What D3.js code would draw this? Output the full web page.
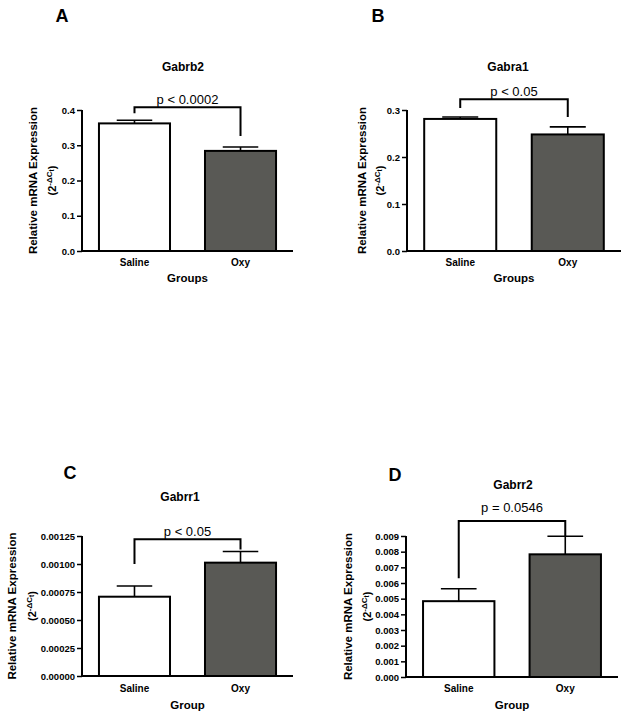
<!DOCTYPE html>
<html><head><meta charset="utf-8">
<script src="https://cdn.jsdelivr.net/npm/d3@7"></script>
<style>body{margin:0;background:#fff}svg{display:block}</style>
</head><body>
<script>
// ---- data ----
const categories = ["Saline", "Oxy"];
const gabrb2Means = [0.362, 0.284];
const gabrb2Errors = [0.009, 0.011];
const gabra1Means = [0.281, 0.248];
const gabra1Errors = [0.004, 0.016];
const gabrr1Means = [0.000708, 0.001012];
const gabrr1Errors = [0.000096, 0.0001];
const gabrr2Means = [0.00484, 0.00783];
const gabrr2Errors = [0.00079, 0.00115];

const ticksA = [0, 0.1, 0.2, 0.3, 0.4];
const ticksB = [0, 0.1, 0.2, 0.3];
const ticksC = [0, 0.00025, 0.0005, 0.00075, 0.001, 0.00125];
const ticksD = [0, 0.001, 0.002, 0.003, 0.004, 0.005, 0.006, 0.007, 0.008, 0.009];

const titles = ["Gabrb2", "Gabra1", "Gabrr1", "Gabrr2"];
const panelLetters = ["A", "B", "C", "D"];
const pLabels = ["p < 0.0002", "p < 0.05", "p < 0.05", "p = 0.0546"];
const xTitles = ["Groups", "Groups", "Group", "Group"];
// bracket: [bar height, left leg end, right leg end] in data units
const bracketA = [0.408, 0.391, 0.326];
const bracketB = [0.3228, 0.304, 0.285];
const bracketC = [0.00122, 0.001, 0.00113];
const bracketD = [0.00996, 0.00631, 0.009];

// ---- layout ----
const W = 629, H = 717;
const svg = d3.select("body").append("svg").attr("width", W).attr("height", H);
const FONT = "'Liberation Sans', Arial, sans-serif";

const panels = [
  {means: gabrb2Means, errs: gabrb2Errors, ticks: ticksA, fmt: d3.format(".1f"), bracket: bracketA,
   x0: 82, x1: 293, yTop: 110, yBot: 251, letter: [62, 22], title: [183, 71], pY: 104,
   yt1: 49, yt2: 30, xlab: 266, xtit: 282},
  {means: gabra1Means, errs: gabra1Errors, ticks: ticksB, fmt: d3.format(".1f"), bracket: bracketB,
   x0: 407, x1: 621, yTop: 110, yBot: 251, letter: [378, 22], title: [508, 71], pY: 96,
   yt1: 45, yt2: 27, xlab: 266, xtit: 282},
  {means: gabrr1Means, errs: gabrr1Errors, ticks: ticksC, fmt: d3.format(".5f"), bracket: bracketC,
   x0: 82, x1: 293, yTop: 536, yBot: 676, letter: [70, 479], title: [180, 501], pY: 536,
   yt1: 70, yt2: 50, xlab: 692, xtit: 709},
  {means: gabrr2Means, errs: gabrr2Errors, ticks: ticksD, fmt: d3.format(".3f"), bracket: bracketD,
   x0: 406, x1: 618, yTop: 536, yBot: 677, letter: [395, 481], title: [513, 489], pY: 512,
   yt1: 58, yt2: 39, xlab: 692, xtit: 709}
];

panels.forEach((p, i) => {
  const g = svg.append("g");
  const y = d3.scaleLinear().domain([0, p.ticks[p.ticks.length - 1]]).range([p.yBot, p.yTop]);
  const x = d3.scaleBand().domain(categories).range([p.x0, p.x1]).paddingInner(0.33).paddingOuter(0.16);

  g.append("text").attr("x", p.letter[0]).attr("y", p.letter[1]).attr("text-anchor", "middle")
    .attr("font-family", FONT).attr("font-weight", "bold").attr("font-size", 18).text(panelLetters[i]);
  g.append("text").attr("x", p.title[0]).attr("y", p.title[1]).attr("text-anchor", "middle")
    .attr("font-family", FONT).attr("font-weight", "bold").attr("font-size", 12).text(titles[i]);

  const data = categories.map((c, k) => ({c, m: p.means[k], e: p.errs[k], k}));
  const eb = g.append("g").attr("stroke", "#000").attr("stroke-width", 1.6);
  data.forEach(d => {
    const cx = x(d.c) + x.bandwidth() / 2;
    const cw = x.bandwidth() * 0.25;
    eb.append("line").attr("x1", cx).attr("x2", cx).attr("y1", y(d.m)).attr("y2", y(d.m + d.e));
    eb.append("line").attr("x1", cx - cw).attr("x2", cx + cw).attr("y1", y(d.m + d.e)).attr("y2", y(d.m + d.e));
  });
  g.append("g").selectAll("rect").data(data).join("rect")
    .attr("x", d => x(d.c)).attr("width", x.bandwidth())
    .attr("y", d => y(d.m)).attr("height", d => y(0) - y(d.m))
    .attr("fill", d => d.k === 0 ? "#ffffff" : "#595955")
    .attr("stroke", "#000").attr("stroke-width", 2);

  const ya = g.append("g").attr("transform", `translate(${p.x0},0)`)
    .call(d3.axisLeft(y).tickValues(p.ticks).tickFormat(p.fmt).tickSize(5).tickPadding(2));
  ya.select(".domain").attr("stroke-width", 2).attr("d", `M0,${p.yTop}V${p.yBot}`);
  ya.selectAll(".tick line").attr("stroke-width", 1.5);
  ya.selectAll("text").attr("font-family", FONT).attr("font-weight", "bold").attr("font-size", 9.5).attr("fill", "#000");

  const xa = g.append("g").attr("transform", `translate(0,${p.yBot})`)
    .call(d3.axisBottom(x).tickSize(0).tickPadding(0));
  xa.select(".domain").attr("stroke-width", 2).attr("d", `M${p.x0},0H${p.x1}`);
  xa.selectAll("text").attr("font-family", FONT).attr("font-weight", "bold").attr("font-size", 10)
    .attr("fill", "#000").attr("dy", null).attr("y", p.xlab - p.yBot);

  g.append("text").attr("x", (p.x0 + p.x1) / 2).attr("y", p.xtit).attr("text-anchor", "middle")
    .attr("font-family", FONT).attr("font-weight", "bold").attr("font-size", 11.5).text(xTitles[i]);

  const cy = (p.yTop + p.yBot) / 2;
  g.append("text").attr("transform", `translate(${p.x0 - p.yt1 + 4},${cy}) rotate(-90)`)
    .attr("text-anchor", "middle").attr("font-family", FONT).attr("font-weight", "bold").attr("font-size", 11.5)
    .text("Relative mRNA Expression");
  const t2 = g.append("text").attr("transform", `translate(${p.x0 - p.yt2 + 4},${cy}) rotate(-90)`)
    .attr("text-anchor", "middle").attr("font-family", FONT).attr("font-weight", "bold").attr("font-size", 11);
  t2.append("tspan").text("(2");
  t2.append("tspan").attr("font-size", 8).attr("dy", -4).text("-ΔC");
  t2.append("tspan").attr("font-size", 6.5).attr("dy", 2).text("t");
  t2.append("tspan").attr("dy", 2).text(")");

  const b = p.bracket;
  const lx = x(categories[0]) + x.bandwidth() / 2;
  const rx = x(categories[1]) + x.bandwidth() / 2;
  g.append("path").attr("fill", "none").attr("stroke", "#000").attr("stroke-width", 2)
    .attr("d", `M${lx},${y(b[1])}V${y(b[0])}H${rx}V${y(b[2])}`);
  g.append("text").attr("x", (lx + rx) / 2).attr("y", p.pY).attr("text-anchor", "middle")
    .attr("font-family", FONT).attr("font-size", 13).text(pLabels[i]);
});
</script>
</body></html>
